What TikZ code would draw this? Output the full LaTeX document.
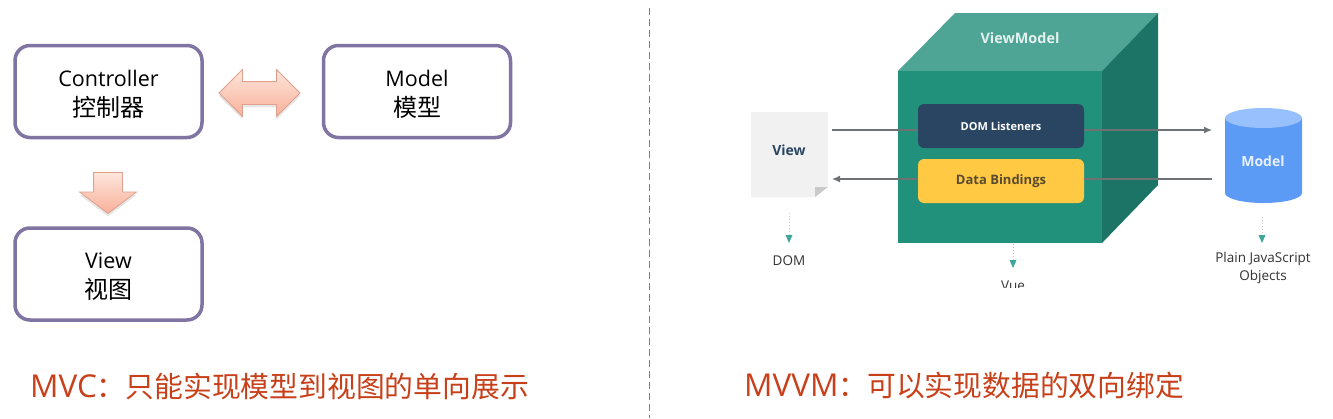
\documentclass[tikz,border=0pt]{standalone}
\usepackage{fontspec}
\setmainfont{Open Sans}
\newfontfamily\cjk{Noto Sans CJK SC}
\usetikzlibrary{shapes.arrows,shadows,arrows.meta}
\definecolor{boxline}{HTML}{8074A2}
\definecolor{arrowline}{HTML}{DFA08E}
\definecolor{arrowlight}{HTML}{FEE6DC}
\definecolor{arrowdark}{HTML}{F8B09A}
\definecolor{captionred}{HTML}{C8401A}
\definecolor{cubefront}{HTML}{22917C}
\definecolor{cubetop}{HTML}{4FA595}
\definecolor{cubeside}{HTML}{1C7466}
\definecolor{listenerblue}{HTML}{2A4562}
\definecolor{bindingyellow}{HTML}{FFC944}
\definecolor{bindingtext}{HTML}{5A4B30}
\definecolor{modelblue}{HTML}{5B9BF6}
\definecolor{modeltop}{HTML}{97C0FC}
\definecolor{pagegray}{HTML}{F1F1F1}
\definecolor{foldgray}{HTML}{C9C9C9}
\definecolor{wiregray}{HTML}{6F7274}
\definecolor{tealtip}{HTML}{3FA69A}
\newcommand{\cjkbig}{\cjk\fontsize{24}{30}\selectfont}
\newcommand{\cjkcap}{\cjk\fontsize{28.8}{32}\selectfont}
\newcommand{\lowered}[1]{\raisebox{-3pt}[\height][\depth]{#1}}
\tikzset{
    mvcbox/.style={draw=boxline,line width=3.5,rounded corners=15,fill=white,align=center,
        minimum width=187,minimum height=92,inner sep=0,
        font=\fontsize{21.5}{30}\selectfont},
    blockarrow/.style={draw=arrowline,line width=0.8,top color=arrowlight,bottom color=arrowdark,
        drop shadow={opacity=0.2,shadow xshift=0pt,shadow yshift=-3pt}},
    caption/.style={text=captionred,anchor=west,inner sep=0,font=\fontsize{31.5}{32}\selectfont},
    innerbox/.style={rounded corners=6,minimum width=166,minimum height=44,inner sep=0},
    wire/.style={draw=wiregray,line width=1.2},
    wirearrow/.style={wire,-{Latex[length=8,width=7]}},
    dotarrow/.style={draw=foldgray,line width=1,dotted},
    tealhead/.style={fill=tealtip},
    smalllabel/.style={text=black!80,align=center,inner sep=0,font=\fontsize{13.5}{18}\selectfont}
}
\begin{document}
\begin{tikzpicture}[x=1pt,y=-1pt]
    \useasboundingbox (0,0) rectangle (1333,418);
    \draw[gray,line width=0.8,dash pattern=on 7pt off 4pt] (649,8) -- (649,418);

    \node[mvcbox] (controller) at (108.5,91.5) {\lowered{Controller}\\\lowered{\cjkbig 控制器}};
    \node[mvcbox] (model) at (417,91.5) {\lowered{Model}\\\lowered{\cjkbig 模型}};
    \node[mvcbox] (view) at (108.5,274) {\lowered{View}\\\lowered{\cjkbig 视图}};
    \node[blockarrow,double arrow,inner sep=11,minimum height=81,
        double arrow head extend=12,double arrow head indent=0,double arrow tip angle=90] (exchange) at (259.5,93) {};
    \node[blockarrow,single arrow,shape border rotate=270,inner sep=14,minimum height=41,
        single arrow head extend=14,single arrow head indent=0,single arrow tip angle=106] (update) at (108,187.5) {};
    \node[caption] (mvccaption) at (30,386) {MVC{\cjkcap ：只能实现模型到视图的单向展示}};
    \node[caption] (mvvmcaption) at (744,386) {MVVM{\cjkcap ：可以实现数据的双向绑定}};

    \fill[cubetop] (898,71) -- (955,13) -- (1158,13) -- (1102,71) -- cycle;
    \fill[cubeside] (1102,71) -- (1158,13) -- (1158,185) -- (1102,243) -- cycle;
    \fill[cubefront] (898,71) rectangle (1102,243);
    \node[text=white!85!cubetop,inner sep=0,font=\fontsize{14.4}{16}\selectfont\bfseries] (viewmodel) at (1020,38) {ViewModel};

    \fill[pagegray] (751,112) -- (828,112) -- (828,187) -- (815,197) -- (751,197) -- cycle;
    \fill[foldgray] (828,187) -- (815,187) -- (815,197) -- cycle;
    \node[text=listenerblue,inner sep=0,font=\fontsize{14}{16}\selectfont\bfseries] (viewpage) at (789,150) {View};

    \coordinate (viewout) at (832,130);
    \coordinate (viewin) at (832,179);
    \coordinate (modelin) at (1212,130);
    \coordinate (modelout) at (1212,179);
    \node[innerbox,fill=listenerblue,text=white,font=\fontsize{11}{14}\selectfont\bfseries] (listeners) at (1001,126) {DOM Listeners};
    \node[innerbox,fill=bindingyellow,text=bindingtext,font=\fontsize{13}{14}\selectfont\bfseries] (bindings) at (1001,181) {Data Bindings};
    \draw[wire] (viewout) -- (viewout -| listeners.west);
    \draw[wirearrow] (viewout -| listeners.east) -- (modelin);
    \draw[wire] (modelout) -- (modelout -| bindings.east);
    \draw[wirearrow] (viewin -| bindings.west) -- (viewin);

    \fill[modelblue] (1225,118) -- (1225,193) arc[start angle=180,end angle=0,x radius=38.5,y radius=10]
        -- (1302,118) -- cycle;
    \fill[modeltop] (1263.5,118) ellipse[x radius=38.5,y radius=10];
    \node[text=white!85!modelblue,inner sep=0,font=\fontsize{14}{16}\selectfont\bfseries] (modelcan) at (1263,161) {Model};

    \coordinate (domfrom) at (789,213);
    \coordinate (vuefrom) at (1013,244);
    \coordinate (plainfrom) at (1262,217);
    \node[smalllabel] (domlabel) at (789,261) {DOM};
    \begin{scope}
        \clip (950,240) rectangle (1080,287);
        \node[smalllabel] (vuelabel) at (1013,286) {Vue};
    \end{scope}
    \node[smalllabel] (plainlabel) at (1263,268) {Plain JavaScript\\Objects};
    \foreach \from/\tipy in {domfrom/243,vuefrom/268,plainfrom/243} {
        \draw[dotarrow] (\from) -- (\from |- 0,\tipy);
        \fill[tealhead] ([xshift=-3.5pt]\from |- 0,\tipy-8) -- ([xshift=3.5pt]\from |- 0,\tipy-8) -- (\from |- 0,\tipy) -- cycle;
    }
\end{tikzpicture}
\end{document}
